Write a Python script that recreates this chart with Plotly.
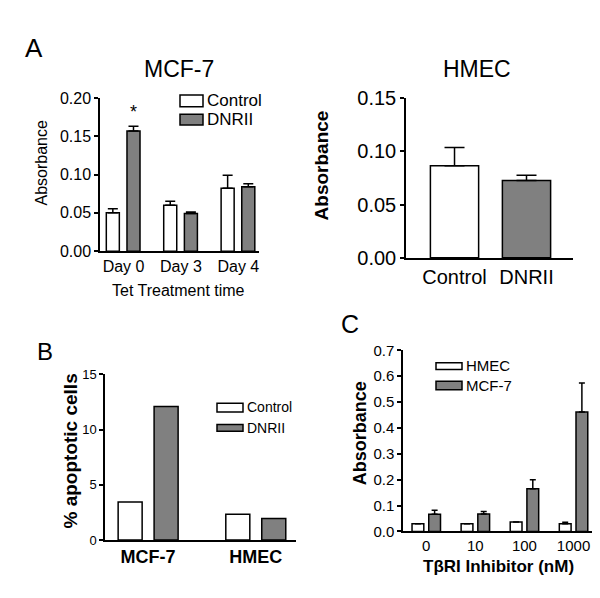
import plotly.graph_objects as go

# Panel A - MCF-7
days = ["Day 0", "Day 3", "Day 4"]
mcf_control = [0.050, 0.060, 0.082]
mcf_control_err = [0.0055, 0.005, 0.017]
mcf_dnrii = [0.157, 0.049, 0.084]
mcf_dnrii_err = [0.006, 0.002, 0.004]

# Panel A - HMEC
hmec_groups = ["Control", "DNRII"]
hmec_abs = [0.0865, 0.0725]
hmec_err = [0.017, 0.005]

# Panel B
apop_cells = ["MCF-7", "HMEC"]
apop_control = [3.45, 2.35]
apop_dnrii = [12.1, 1.95]

# Panel C
doses = ["0", "10", "100", "1000"]
c_hmec = [0.030, 0.030, 0.036, 0.030]
c_hmec_err = [0.0, 0.0, 0.0, 0.005]
c_mcf = [0.066, 0.067, 0.165, 0.462]
c_mcf_err = [0.016, 0.010, 0.035, 0.112]

W, H = 600, 598
FONT = "Liberation Sans, Arial, sans-serif"
NARROW = "Liberation Sans Narrow, Arial Narrow, Liberation Sans, sans-serif"
GRAY = "#808080"


def px_x(p):
    return p / W


def px_y(p):
    return 1 - p / H


def bar(x, y, err, fill, xa, ya, offset, width, cap):
    return go.Bar(
        x=x, y=y, xaxis=xa, yaxis=ya, offset=offset, width=width,
        marker=dict(color=fill, line=dict(color="black", width=1.5)),
        error_y=dict(type="data", symmetric=False, array=err,
                     arrayminus=[0] * len(err), color="black",
                     thickness=1.5, width=cap),
        showlegend=False,
    )


fig = go.Figure()

fig.add_trace(bar(days, mcf_control, mcf_control_err, "white", "x", "y", -0.30, 0.227, 5))
fig.add_trace(bar(days, mcf_dnrii, mcf_dnrii_err, GRAY, "x", "y", 0.06, 0.227, 5))

fig.add_trace(go.Bar(
    x=hmec_groups, y=hmec_abs, xaxis="x2", yaxis="y2", width=0.67,
    marker=dict(color=["white", GRAY], line=dict(color="black", width=1.5)),
    error_y=dict(type="data", symmetric=False, array=hmec_err, arrayminus=[0, 0],
                 color="black", thickness=1.5, width=10),
    showlegend=False,
))

fig.add_trace(go.Bar(x=apop_cells, y=apop_control, xaxis="x3", yaxis="y3",
                     offset=-0.278, width=0.223, showlegend=False,
                     marker=dict(color="white", line=dict(color="black", width=1.5))))
fig.add_trace(go.Bar(x=apop_cells, y=apop_dnrii, xaxis="x3", yaxis="y3",
                     offset=0.056, width=0.223, showlegend=False,
                     marker=dict(color=GRAY, line=dict(color="black", width=1.5))))

fig.add_trace(bar(doses, c_hmec, c_hmec_err, "white", "x4", "y4", -0.29, 0.24, 3))
fig.add_trace(bar(doses, c_mcf, c_mcf_err, GRAY, "x4", "y4", 0.05, 0.24, 3))

axis_common = dict(showline=True, linecolor="black", linewidth=1.5, showgrid=False,
                   zeroline=False, mirror=False)


def xaxis(dom, rng, anchor, size, bold=False, family=FONT):
    return dict(axis_common, domain=dom, range=rng, anchor=anchor, ticks="",
                type="category",
                tickfont=dict(family=family, size=size, color="black",
                              weight="bold" if bold else "normal"))


def yaxis(dom, rng, anchor, dtick, fmt, size, family=FONT):
    return dict(axis_common, domain=dom, range=rng, anchor=anchor, ticks="outside",
                ticklen=4, tickwidth=1.5, tickcolor="black", dtick=dtick,
                tick0=0, tickformat=fmt,
                tickfont=dict(family=family, size=size, color="black"))


fig.update_layout(
    width=W, height=H, margin=dict(l=0, r=0, t=0, b=0),
    paper_bgcolor="white", plot_bgcolor="white", barmode="overlay",
    font=dict(family=FONT, color="black"),
    xaxis=xaxis([px_x(92), px_x(251)], [-0.41, 2.36], "y", 16),
    yaxis=yaxis([px_y(241), px_y(82)], [0, 0.20], "x", 0.05, ".2f", 16),
    xaxis2=xaxis([px_x(398), px_x(565)], [-0.674, 1.646], "y2", 20),
    yaxis2=yaxis([px_y(248), px_y(82)], [0, 0.15], "x2", 0.05, ".2f", 20),
    xaxis3=xaxis([px_x(97), px_x(288)], [-0.40, 1.374], "y3", 18, bold=True, family=NARROW),
    yaxis3=yaxis([px_y(541), px_y(369)], [0, 15], "x3", 5, "d", 13, family=NARROW),
    xaxis4=xaxis([px_x(395), px_x(584)], [-0.474, 3.376], "y4", 15),
    yaxis4=yaxis([px_y(532), px_y(344)], [0, 0.7], "x4", 0.1, ".1f", 15),
)


def text(s, x, y, size, angle=0, bold=False, family=FONT, xanchor="center"):
    fig.add_annotation(text=s, x=px_x(x), y=px_y(y), xref="paper", yref="paper",
                       showarrow=False, textangle=angle, xanchor=xanchor, yanchor="middle",
                       font=dict(family=family, size=size, color="black",
                                 weight="bold" if bold else "normal"))


def legend_box(x0, y0, x1, y1, fill):
    fig.add_shape(type="rect", xref="paper", yref="paper",
                  x0=px_x(x0), x1=px_x(x1), y0=px_y(y1), y1=px_y(y0),
                  fillcolor=fill, line=dict(color="black", width=1.5))


# panel letters and titles
text("A", 26, 30, 26)
text("B", 37, 345, 24)
text("C", 342, 317, 25)
text("MCF-7", 171, 52, 23)
text("HMEC", 469, 52, 23)

# axis titles
text("Absorbance", 33, 150, 16, angle=-90)
text("Tet Treatment time", 171, 282, 16)
text("Absorbance", 313, 152, 19, angle=-90, bold=True)
text("% apoptotic cells", 62, 449, 19, angle=-90, bold=True, family=NARROW)
text("Absorbance", 352, 430, 18, angle=-90, bold=True)
text("TβRI Inhibitor (nM)", 490, 568, 17, bold=True)

# significance mark
fig.add_annotation(text="*", x=0.173, y=mcf_dnrii[0] + mcf_dnrii_err[0], xref="x", yref="y",
                   showarrow=False, yanchor="bottom", yshift=2,
                   font=dict(family=FONT, size=18, color="black"))

# legends
legend_box(172, 79, 195, 91, "white")
legend_box(172, 99, 195, 110, GRAY)
text("Control", 197, 85, 17, xanchor="left")
text("DNRII", 197, 104, 17, xanchor="left")

legend_box(209, 399, 235, 408, "white")
legend_box(209, 421, 235, 428, GRAY)
text("Control", 237, 403, 14, xanchor="left")
text("DNRII", 237, 425, 14, xanchor="left")

legend_box(428, 357, 454, 364, "white")
legend_box(428, 376, 454, 385, GRAY)
text("HMEC", 456, 360, 15, xanchor="left")
text("MCF-7", 456, 381, 15, xanchor="left")

fig.write_html("out.html")
